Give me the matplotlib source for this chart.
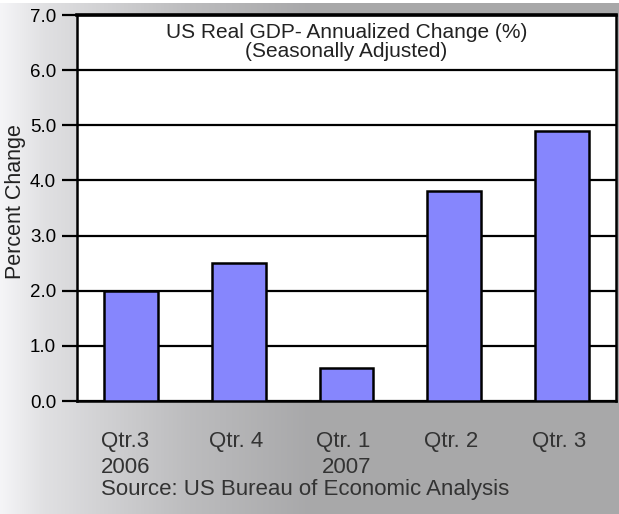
import numpy as np
import matplotlib
matplotlib.use("Agg")
import matplotlib.pyplot as plt
import matplotlib.transforms as mtransforms

plt.rcParams['font.family'] = ['Liberation Sans', 'DejaVu Sans']

# data
quarters = ["Qtr.3", "Qtr. 4", "Qtr. 1", "Qtr. 2", "Qtr. 3"]
gdp_change = [2.0, 2.5, 0.6, 3.8, 4.9]
years = ["2006", "", "2007", "", ""]
yticks = [0, 1, 2, 3, 4, 5, 6, 7]

fig = plt.figure(figsize=(6.19, 5.14), dpi=100)

# grey gradient backdrop
bg = fig.add_axes([0, 0, 1, 1 - 3 / 514])
xs = np.linspace(0, 1, 400)
shade = np.interp(xs, [0, 0.07, 0.15, 0.3, 0.5, 1], [0.96, 0.88, 0.83, 0.74, 0.66, 0.66])
rgb = np.dstack([shade, shade, shade * 1.01]).clip(0, 1)
bg.imshow(rgb, aspect="auto", extent=[0, 1, 0, 1])
bg.set_axis_off()

ax = fig.add_axes([77 / 619, 1 - 401 / 514, (616 - 77) / 619, (401 - 15) / 514])
ax.set_facecolor("white")
x = np.arange(len(gdp_change))
ax.bar(x, gdp_change, width=0.5, color="#8686fd", edgecolor="black", linewidth=1.8, zorder=3)

ax.set_xlim(-0.5, 4.5)
ax.set_ylim(0, 7)
ax.set_yticks(yticks)
ax.set_yticklabels([f"{v:.1f}" for v in yticks])
ax.set_xticks([])
ax.grid(axis="y", color="black", linewidth=1.6, zorder=1)
ax.tick_params(axis="y", length=11, width=1.6, pad=4, labelsize=13.5)
for sp in ax.spines.values():
    sp.set_linewidth(1.8)
ax.spines["top"].set_linewidth(2.6)

# title inside the plot, two lines
tt = mtransforms.blended_transform_factory(ax.transAxes, fig.transFigure)
ax.text(0.5, 1 - 38 / 514, "US Real GDP- Annualized Change (%)", transform=tt,
        ha="center", va="baseline", fontsize=15, color="#222222")
ax.text(0.5, 1 - 57 / 514, "(Seasonally Adjusted)", transform=tt,
        ha="center", va="baseline", fontsize=15, color="#222222")

fig.text(16 / 619, 1 - 202 / 514, "Percent Change", rotation=90, ha="center", va="center",
         fontsize=15.5, color="#222222")

# category labels under the axis, left aligned to the bars
trans = mtransforms.blended_transform_factory(ax.transData, fig.transFigure)
for i, q in enumerate(quarters):
    ax.text(i - 0.28, 1 - 447 / 514, q, transform=trans, ha="left", va="baseline",
            fontsize=16, color="#333333")
    if years[i]:
        off = -0.28 if i == 0 else -0.23
        ax.text(i + off, 1 - 473 / 514, years[i], transform=trans, ha="left", va="baseline",
                fontsize=16, color="#333333")
ax.text(-0.28, 1 - 495 / 514, "Source: US Bureau of Economic Analysis", transform=trans,
        ha="left", va="baseline", fontsize=16, color="#333333")

fig.savefig("out.png", dpi=100)
